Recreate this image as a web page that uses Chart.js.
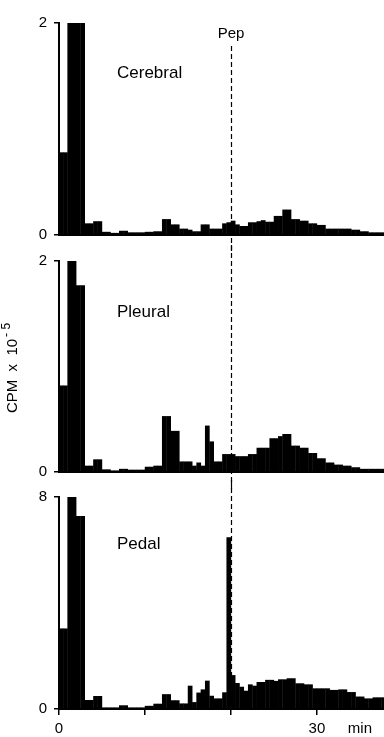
<!DOCTYPE html>
<html>
<head>
<meta charset="utf-8">
<script src="https://cdn.jsdelivr.net/npm/chart.js@4.4.0/dist/chart.umd.min.js"></script>
<style>
  body { margin: 0; background: #fff; }
  #wrap { position: relative; width: 384px; height: 737px; overflow: hidden; }
  canvas { position: absolute; left: 0; }
</style>
</head>
<body>
<div id="wrap">
  <canvas id="c1" width="384" height="252" style="top:0px"></canvas>
  <canvas id="c2" width="384" height="244" style="top:245px"></canvas>
  <canvas id="c3" width="384" height="257" style="top:480px"></canvas>
</div>
<script>
// start of each 0.5 min bin
var binStart = [0,0.5,1,1.5,2,2.5,3,3.5,4,4.5,5,5.5,6,6.5,7,7.5,8,8.5,9,9.5,
  10,10.5,11,11.5,12,12.5,13,13.5,14,14.5,15,15.5,16,16.5,17,17.5,18,18.5,19,19.5,
  20,20.5,21,21.5,22,22.5,23,23.5,24,24.5,25,25.5,26,26.5,27,27.5,28,28.5,29,29.5,
  30,30.5,31,31.5,32,32.5,33,33.5,34,34.5,35,35.5,36,36.5,37,37.5];

var cerebral = [0.78,0.78,2,2,2,2,0.11,0.11,0.13,0.13,0.03,0.03,0.02,0.02,0.04,0.04,0.025,0.025,0.025,0.025,
  0.03,0.03,0.035,0.035,0.15,0.15,0.1,0.1,0.06,0.06,0.05,0.035,0.035,0.1,0.1,0.06,0.06,0.06,0.11,0.12,
  0.135,0.1,0.085,0.085,0.12,0.12,0.13,0.14,0.125,0.125,0.18,0.18,0.24,0.24,0.15,0.15,0.135,0.135,0.11,0.11,
  0.095,0.095,0.06,0.06,0.06,0.06,0.06,0.06,0.05,0.05,0.035,0.035,0.025,0.025,0.025,0.025];

var pleural = [0.82,0.82,2,2,1.77,1.77,0.06,0.06,0.12,0.12,0.025,0.025,0.015,0.015,0.03,0.03,0.022,0.022,0.022,0.022,
  0.05,0.05,0.06,0.06,0.53,0.53,0.39,0.39,0.1,0.1,0.1,0.06,0.09,0.06,0.44,0.29,0.1,0.1,0.17,0.17,
  0.17,0.15,0.15,0.15,0.17,0.17,0.23,0.23,0.23,0.32,0.32,0.34,0.36,0.36,0.25,0.25,0.23,0.23,0.18,0.18,
  0.13,0.13,0.09,0.09,0.07,0.07,0.06,0.06,0.045,0.045,0.03,0.03,0.03,0.03,0.03,0.03];

var pedal = [3.04,3.04,8,8,7.28,7.28,0.34,0.34,0.49,0.49,0.06,0.06,0.06,0.06,0.14,0.14,0.06,0.06,0.06,0.06,
  0.12,0.12,0.2,0.2,0.56,0.56,0.33,0.33,0.21,0.21,0.88,0.26,0.62,0.74,1.07,0.5,0.4,0.4,0.63,6.48,
  1.28,0.98,0.84,0.69,0.93,0.88,1.02,1.02,1.1,1.1,1.06,1.12,1.12,1.16,1.16,0.97,0.97,0.93,0.93,0.78,
  0.78,0.78,0.78,0.72,0.72,0.74,0.74,0.64,0.64,0.47,0.47,0.4,0.4,0.44,0.44,0.44];

var yMax = [2, 2, 8];
var xTickLabels = {0: '0', 30: '30', 35: 'min'};
var pepTime = 20;
var font = "'Liberation Sans', Arial, sans-serif";

function toPoints(vals) {
    return binStart.map((t, i) => ({x: t + 0.25, y: vals[i]}));
}

var pepLine = {
    id: 'pepLine',
    beforeDatasetsDraw(chart, args, opts) {
        var ctx = chart.ctx;
        var x = Math.round(chart.scales.x.getPixelForValue(pepTime)) + 0.5;
        ctx.save();
        ctx.strokeStyle = '#000';
        ctx.lineWidth = 1.2;
        ctx.setLineDash([5, 3]);
        ctx.beginPath();
        ctx.moveTo(x, opts.from);
        ctx.lineTo(x, opts.to);
        ctx.stroke();
        ctx.restore();
    }
};

var texts = {
    id: 'texts',
    afterDraw(chart, args, opts) {
        var ctx = chart.ctx;
        ctx.save();
        ctx.fillStyle = '#000';
        ctx.textBaseline = 'alphabetic';
        (opts.items || []).forEach(function(it) {
            ctx.font = it.size + 'px ' + font;
            ctx.textAlign = it.align || 'left';
            ctx.fillText(it.text, it.x, it.y);
        });
        if (opts.yTitle) {
            // CPM x 10^-5, rotated
            ctx.translate(opts.yTitle.x, opts.yTitle.y);
            ctx.rotate(-Math.PI / 2);
            ctx.textAlign = 'left';
            ctx.font = '15px ' + font;
            var main = 'CPM  x  10';
            var w1 = ctx.measureText(main).width;
            ctx.font = '12px ' + font;
            var sup = '- 5';
            var w2 = ctx.measureText(sup).width;
            var start = -(w1 + w2 + 2) / 2;
            ctx.font = '15px ' + font;
            ctx.fillText(main, start, 5);
            ctx.font = '12px ' + font;
            ctx.fillText(sup, start + w1 + 2, -2);
        }
        ctx.restore();
    }
};

function makeChart(id, vals, max, padTop, xHeight, showX, pluginOpts) {
    var ctx = document.getElementById(id).getContext('2d');
    var config = {
        type: 'bar',
        data: {
            datasets: [{
                data: toPoints(vals),
                backgroundColor: '#000',
                borderWidth: 0,
                barPercentage: 1.1,
                categoryPercentage: 1
            }]
        },
        options: {
            responsive: false,
            animation: false,
            devicePixelRatio: 1,
            layout: {padding: {top: padTop, left: 0, right: 0, bottom: 0}},
            plugins: {
                legend: {display: false},
                tooltip: {enabled: false},
                pepLine: pluginOpts.pep,
                texts: pluginOpts.texts
            },
            scales: {
                x: {
                    type: 'linear',
                    min: 0,
                    max: 37.8,
                    offset: false,
                    afterFit: (s) => { s.height = xHeight; },
                    border: {display: true, color: '#000', width: 2},
                    grid: {
                        display: true,
                        offset: false,
                        drawOnChartArea: false,
                        drawTicks: showX,
                        tickLength: 6,
                        lineWidth: 1.5,
                        tickColor: (c) => (c.tick && c.tick.value % 10 === 0 ? '#000' : 'rgba(0,0,0,0)')
                    },
                    ticks: {
                        display: showX,
                        stepSize: 5,
                        includeBounds: false,
                        autoSkip: false,
                        maxRotation: 0,
                        padding: 5,
                        color: '#000',
                        font: {family: font, size: 15},
                        callback: (v) => (xTickLabels[v] !== undefined ? xTickLabels[v] : '')
                    }
                },
                y: {
                    min: 0,
                    max: max,
                    afterFit: (s) => { s.width = 59; },
                    border: {display: true, color: '#000', width: 2},
                    grid: {
                        display: true,
                        drawOnChartArea: false,
                        drawTicks: true,
                        tickLength: 5,
                        lineWidth: 1.5,
                        color: '#000'
                    },
                    ticks: {
                        stepSize: max,
                        padding: 7,
                        color: '#000',
                        font: {family: font, size: 15}
                    }
                }
            }
        },
        plugins: [pepLine, texts]
    };
    return new Chart(ctx, config);
}

makeChart('c1', cerebral, yMax[0], 23, 17, false, {
    pep: {from: 46, to: 252},
    texts: {items: [
        {text: 'Pep', x: 231, y: 38, size: 15, align: 'center'},
        {text: 'Cerebral', x: 117, y: 78, size: 17}
    ]}
});
makeChart('c2', pleural, yMax[1], 15, 17, false, {
    pep: {from: 0, to: 244},
    texts: {items: [
        {text: 'Pleural', x: 117, y: 72, size: 17}
    ], yTitle: {x: 12, y: 123}}
});
makeChart('c3', pedal, yMax[2], 17, 28, true, {
    pep: {from: 0, to: 229},
    texts: {items: [
        {text: 'Pedal', x: 117, y: 69, size: 17}
    ]}
});
</script>
</body>
</html>
